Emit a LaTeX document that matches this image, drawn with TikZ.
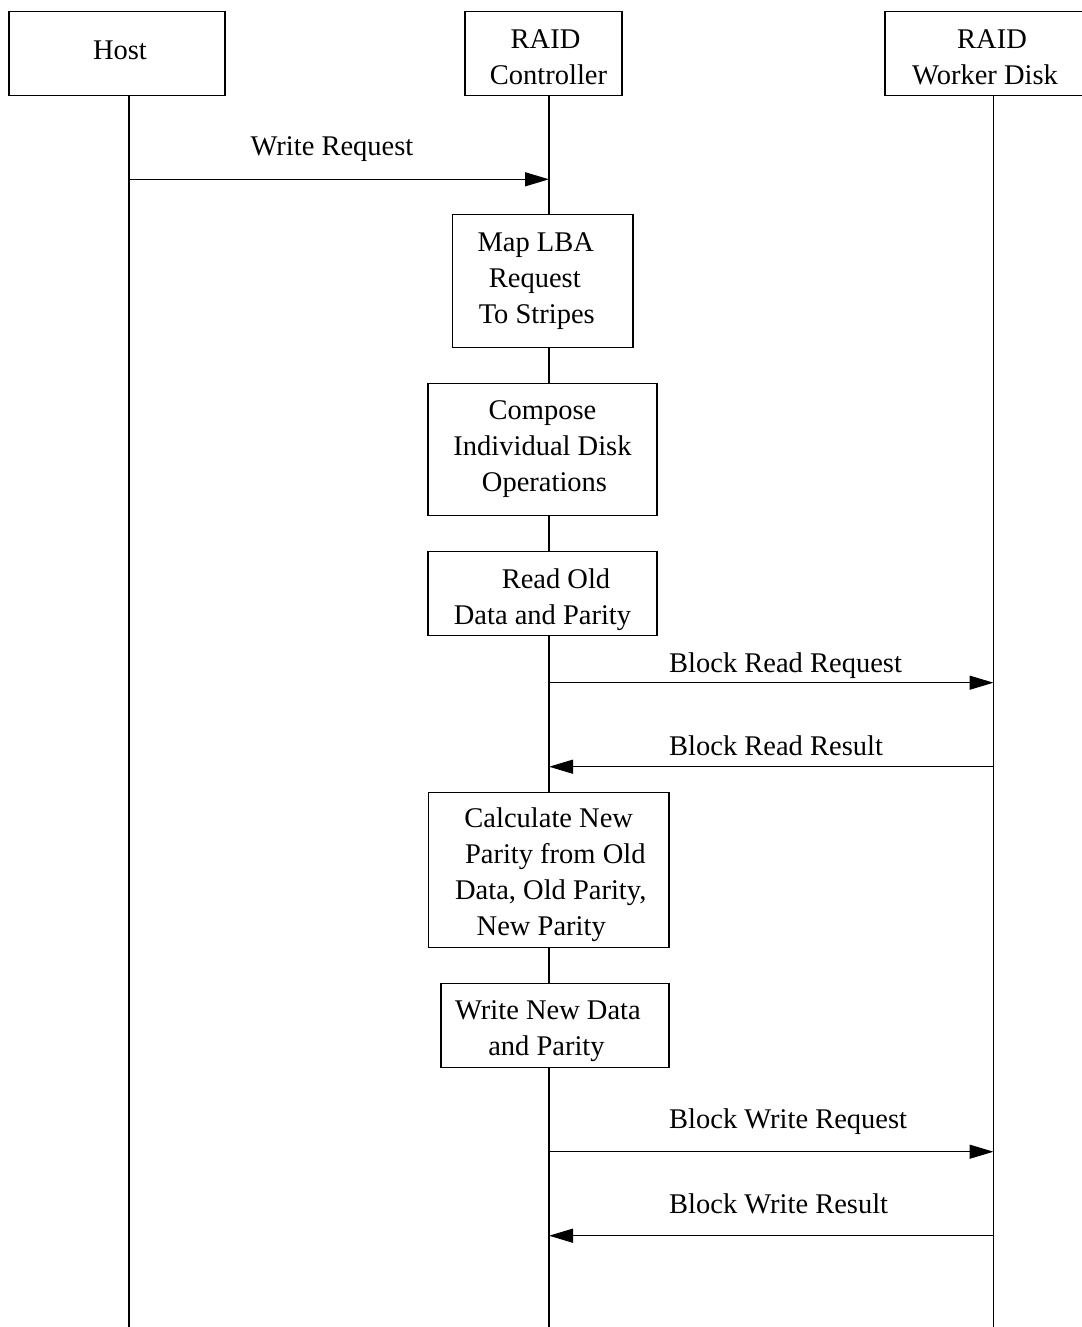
\documentclass[tikz,border=0pt]{standalone}
\usepackage{fontspec}
\setmainfont{Liberation Serif}
\usetikzlibrary{arrows.meta}
\pgfdeclarelayer{background}
\pgfsetlayers{background,main}
\newcommand\shiftln[1]{\hspace*{#1}}
\begin{document}
\begin{tikzpicture}[x=1pt,y=-1pt,
  every node/.style={font=\fontsize{28.5}{36}\selectfont},
  box/.style={draw, line width=1.3pt, fill=white, inner xsep=0pt, inner ysep=0pt, align=center, anchor=north},
  msg/.style={line width=1.3pt, -{Triangle[length=24pt,width=14pt]}},
  life/.style={line width=1.3pt},
  lbl/.style={inner sep=0pt}]
\useasboundingbox (0,0) rectangle (1081,1327);

% header boxes
\node[box, minimum width=216pt, text height=48pt, text depth=36pt] (host) at (117,11) {\shiftln{6pt}Host};
\node[box, minimum width=157pt, text height=73pt, text depth=11pt] (ctrl) at (543.5,11) {\shiftln{4pt}RAID\\\shiftln{10pt}Controller};
\node[box, minimum width=210pt, text height=73pt, text depth=11pt] (disk) at (990,11) {\shiftln{4pt}RAID\\\shiftln{-10pt}Worker Disk};

% controller steps
\node[box, minimum width=180.5pt, text height=109pt, text depth=24pt] (map) at (542.75,214) {\shiftln{-14pt}Map LBA\\\shiftln{-16pt}Request\\\shiftln{-12pt}To Stripes};
\node[box, minimum width=229pt, text height=108pt, text depth=24pt] (comp) at (542.5,383) {Compose\\Individual Disk\\\shiftln{4pt}Operations};
\node[box, minimum width=229pt, text height=73pt, text depth=11pt] (read) at (542.5,551) {\shiftln{27pt}Read Old\\Data and Parity};
\node[box, minimum width=240.5pt, text height=143pt, text depth=12pt] (calc) at (548.75,792) {Calculate New\\\shiftln{13pt}Parity from Old\\\shiftln{4pt}Data, Old Parity,\\\shiftln{-15pt}New Parity};
\node[box, minimum width=228pt, text height=72pt, text depth=12pt] (wnd) at (555,983) {\shiftln{-14pt}Write New Data\\\shiftln{-17pt}and Parity};

% lifeline ends
\coordinate (hEnd) at (129,1327);
\coordinate (cEnd) at (549,1327);
\coordinate (dEnd) at (993.5,1327);

\begin{pgfonlayer}{background}
\draw[life] (host.south -| hEnd) -- (hEnd);
\draw[life] (ctrl.south -| cEnd) -- (cEnd);
\draw[life] (disk.south -| dEnd) -- (dEnd);
\end{pgfonlayer}

% messages
\coordinate (y1) at (0,179.3);
\coordinate (y2) at (0,682.7);
\coordinate (y3) at (0,766.7);
\coordinate (y4) at (0,1151.7);
\coordinate (y5) at (0,1235.7);

\draw[msg] (hEnd |- y1) -- (cEnd |- y1);
\node[lbl, anchor=base] (l1) at (332,155) {Write Request};

\draw[msg] (cEnd |- y2) -- (dEnd |- y2);
\node[lbl, anchor=base west] (l2) at (669,672) {Block Read Request};

\draw[msg] (dEnd |- y3) -- (cEnd |- y3);
\node[lbl, anchor=base west] (l3) at (669,755) {Block Read Result};

\draw[msg] (cEnd |- y4) -- (dEnd |- y4);
\node[lbl, anchor=base west] (l4) at (669,1128) {Block Write Request};

\draw[msg] (dEnd |- y5) -- (cEnd |- y5);
\node[lbl, anchor=base west] (l5) at (669,1213) {Block Write Result};
\end{tikzpicture}
\end{document}
